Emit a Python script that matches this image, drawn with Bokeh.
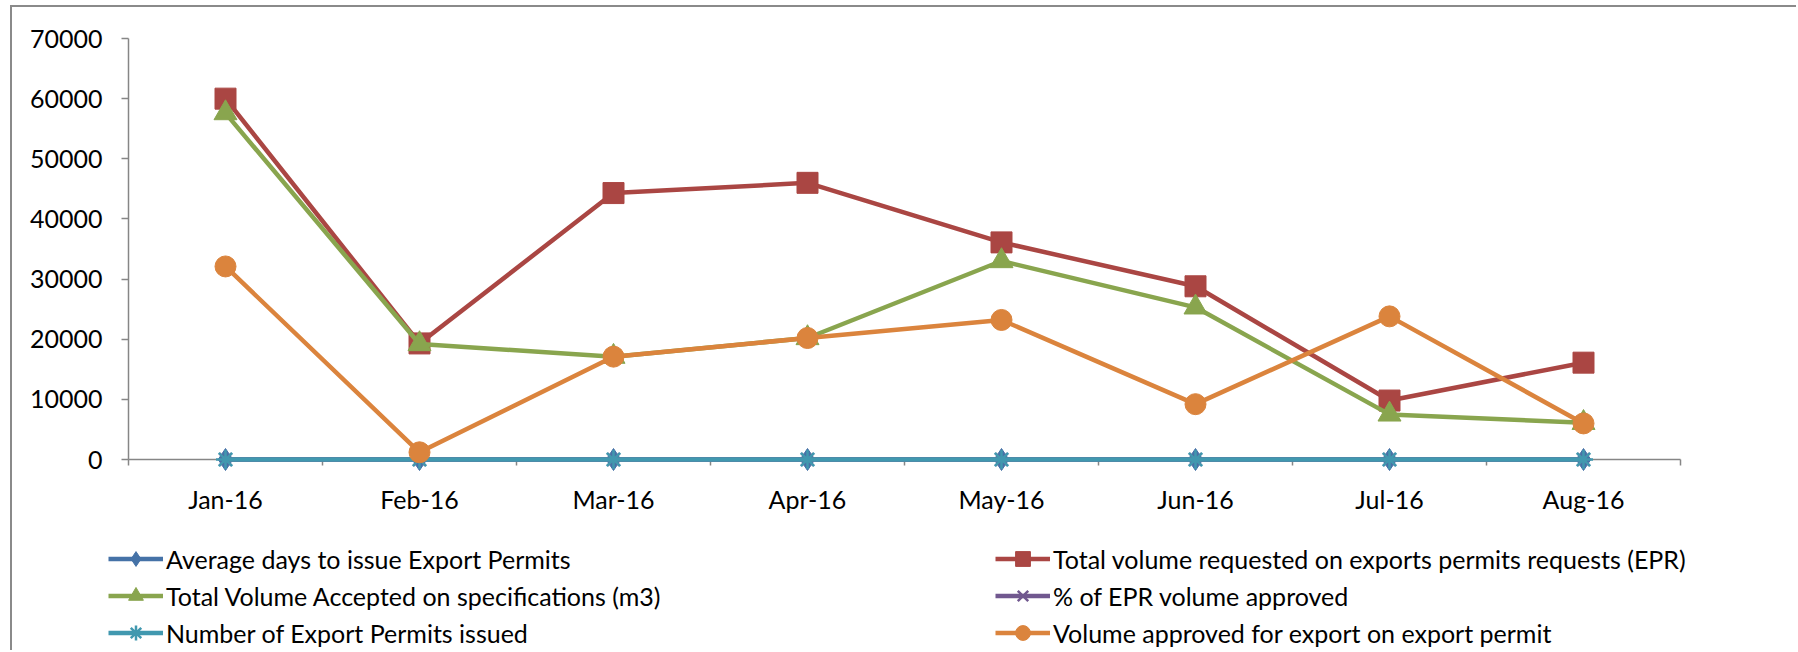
import numpy as np
from bokeh.plotting import figure
from bokeh.models import (Range1d, FixedTicker, Legend, LegendItem, NumeralTickFormatter)
from bokeh.embed import file_html
from bokeh.resources import INLINE

# ---------------- data ----------------
months = ["Jan-16", "Feb-16", "Mar-16", "Apr-16", "May-16", "Jun-16", "Jul-16", "Aug-16"]

avg_days_to_issue = [0, 0, 0, 0, 0, 0, 0, 0]
total_volume_requested = [60000, 19300, 44300, 46000, 36100, 28800, 9800, 16100]
total_volume_accepted = [57600, 19200, 17100, 20200, 33000, 25300, 7500, 6100]
pct_epr_volume_approved = [0, 0, 0, 0, 0, 0, 0, 0]
number_of_permits_issued = [0, 0, 0, 0, 0, 0, 0, 0]
volume_approved_for_export = [32100, 1200, 17100, 20200, 23200, 9200, 23800, 6000]

series_names = [
    "Average days to issue Export Permits",
    "Total volume requested on exports permits requests (EPR)",
    "Total Volume Accepted on specifications (m3)",
    "% of EPR volume approved",
    "Number of Export Permits issued",
    "Volume approved for export on export permit",
]
series_values = [avg_days_to_issue, total_volume_requested, total_volume_accepted,
                 pct_epr_volume_approved, number_of_permits_issued, volume_approved_for_export]

y_ticks = [0, 10000, 20000, 30000, 40000, 50000, 60000, 70000]

# ---------------- styles / geometry ----------------
colors = ["#4572A7", "#AA4643", "#89A54E", "#71588F", "#4198AF", "#DB843D"]
markers = ["diamond", "square", "triangle", "x", "asterisk", "circle"]
msizes = [22, 21, 23, 17, 19, 21]
FONT = "Lato"
FS = "25px"
AXIS_GRAY = "#868686"

CANVAS_W, CANVAS_H = 1786, 645       # canvas placed at page (12, 7)
AX_LEFT, AX_RIGHT = 116, 1668        # plot area in canvas px
AX_TOP, AX_BOTTOM = 31, 452

n = len(months)
xs = [i + 0.5 for i in range(n)]
ux = n / (AX_RIGHT - AX_LEFT)                      # x data units per px
uy = (y_ticks[-1] - y_ticks[0]) / (AX_BOTTOM - AX_TOP)  # y data units per px
x_range = Range1d(-AX_LEFT * ux, n + (CANVAS_W - AX_RIGHT) * ux)
y_range = Range1d(y_ticks[0] - (CANVAS_H - AX_BOTTOM) * uy, y_ticks[-1] + AX_TOP * uy)

p = figure(width=CANVAS_W, height=CANVAS_H, output_backend="svg", toolbar_location=None,
           x_range=x_range, y_range=y_range, min_border=0,
           min_border_left=0, min_border_right=0, min_border_top=0, min_border_bottom=0)
p.styles = {"margin-left": "10px", "margin-top": "5px",
            "border-left": "2px solid #8a8a8a", "border-top": "2px solid #8a8a8a"}
p.outline_line_color = None
p.xgrid.visible = False
p.ygrid.visible = False
p.background_fill_color = "white"
p.border_fill_color = "white"

# x axis (at y = 0)
xa = p.xaxis[0]
xa.fixed_location = 0
xa.bounds = (0, n)
xa.level = "underlay"
xa.ticker = FixedTicker(ticks=xs, minor_ticks=list(range(n + 1)))
xa.major_label_overrides = {x: m for x, m in zip(xs, months)}
xa.major_tick_line_color = None
xa.major_tick_out = 0
xa.major_tick_in = 0
xa.minor_tick_line_color = AXIS_GRAY
xa.minor_tick_out = 6
xa.minor_tick_in = 0
xa.minor_tick_line_width = 1.5
xa.axis_line_color = AXIS_GRAY
xa.axis_line_width = 1.5
xa.major_label_standoff = 18
xa.major_label_text_font = FONT
xa.major_label_text_font_size = FS
xa.major_label_text_color = "black"

# y axis (at x = 0)
ya = p.yaxis[0]
ya.fixed_location = 0
ya.bounds = (y_ticks[0], y_ticks[-1])
ya.level = "underlay"
ya.ticker = FixedTicker(ticks=y_ticks)
ya.formatter = NumeralTickFormatter(format="0")
ya.major_tick_line_color = AXIS_GRAY
ya.major_tick_out = 7
ya.major_tick_in = 0
ya.major_tick_line_width = 1.5
ya.minor_tick_line_color = None
ya.axis_line_color = AXIS_GRAY
ya.axis_line_width = 1.5
ya.major_label_standoff = 19
ya.major_label_text_font = FONT
ya.major_label_text_font_size = FS
ya.major_label_text_color = "black"

items = []
for name, vals, c, m, s in zip(series_names, series_values, colors, markers, msizes):
    lr = p.line(xs, vals, line_color=c, line_width=4.5)
    sr = p.scatter(xs, vals, marker=m, size=s, fill_color=c, line_color=c,
                   line_width=2.5 if m in ("x", "asterisk") else 1)
    items.append(LegendItem(label=name, renderers=[lr, sr]))

legend = Legend(items=items, location=(96, 1), orientation="horizontal", ncols=2,
                label_text_font=FONT, label_text_font_size=FS, label_text_color="black",
                glyph_width=55, glyph_height=37, label_height=37, label_width=829,
                spacing=0, label_standoff=3, padding=0, margin=0,
                border_line_color=None, background_fill_alpha=0)
p.add_layout(legend)

open("out.html", "w").write(file_html(p, INLINE))
